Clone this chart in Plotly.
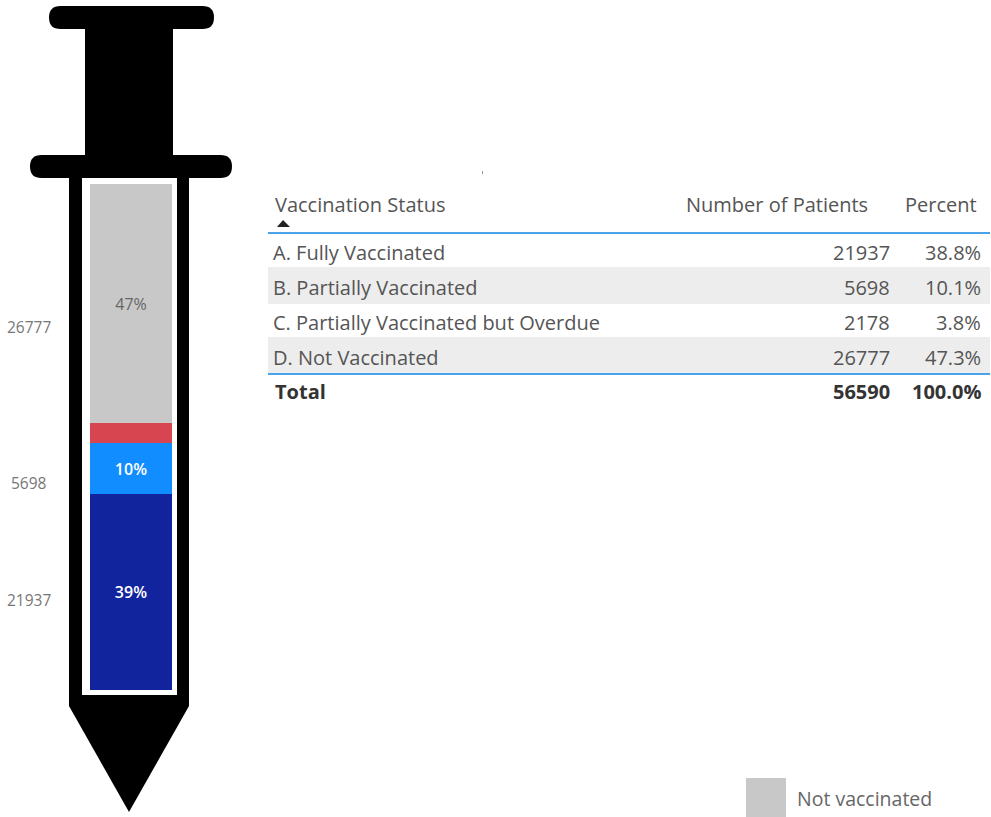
import plotly.graph_objects as go

# Data
statuses = ["A. Fully Vaccinated", "B. Partially Vaccinated",
            "C. Partially Vaccinated but Overdue", "D. Not Vaccinated"]
patients = [21937, 5698, 2178, 26777]
percents = ["38.8%", "10.1%", "3.8%", "47.3%"]
bar_labels = ["39%", "10%", "", "47%"]
side_labels = ["21937", "5698", "", "26777"]
headers = ["Vaccination Status", "Number of Patients", "Percent"]
total_row = ["Total", "56590", "100.0%"]
legend_label = "Not vaccinated"

bar_colors = ["#12239E", "#118DFF", "#D64550", "#C8C8C8"]
bar_text_colors = ["white", "white", "white", "#666666"]

W, H = 991, 817
FONT = "Open Sans"
TEXT = "#555555"

fig = go.Figure()

# Stacked bar inside the syringe barrel
for i in range(len(statuses)):
    fig.add_trace(go.Bar(
        x=[0], y=[patients[i]], name=statuses[i],
        marker=dict(color=bar_colors[i], line=dict(width=0)),
        text=[bar_labels[i]], textposition="inside", insidetextanchor="middle",
        textangle=0,
        textfont=dict(family=FONT, size=16, color=bar_text_colors[i],
                      weight=600 if bar_text_colors[i] == "white" else 400),
        xaxis="x2", yaxis="y2", showlegend=False,
    ))

shapes = []


def rect(x0, y0, x1, y1, color):
    shapes.append(dict(type="rect", xref="x", yref="y", x0=x0, y0=y0, x1=x1, y1=y1,
                       fillcolor=color, line=dict(width=0), layer="below"))


def path(d, color):
    shapes.append(dict(type="path", xref="x", yref="y", path=d,
                       fillcolor=color, line=dict(width=0), layer="below"))


def flange(x0, y0, x1, y1):
    r = (y1 - y0) / 2
    path(f"M {x0 + r} {y0} L {x1 - r} {y0} Q {x1} {y0} {x1} {y0 + r} Q {x1} {y1} {x1 - r} {y1} "
         f"L {x0 + r} {y1} Q {x0} {y1} {x0} {y0 + r} Q {x0} {y0} {x0 + r} {y0} Z", "black")


# Syringe outline
flange(49, 6, 214, 29)
rect(85, 25, 173, 160, "black")
flange(30, 155, 232, 178)
path("M 69 170 L 189 170 L 189 706 L 129 812 L 69 706 Z", "black")
rect(82, 178, 177, 695, "white")

# Table stripes and rules
rect(268, 267, 990, 304, "#EDEDED")
rect(268, 337, 990, 373, "#EDEDED")
rect(268, 232, 990, 234, "#4AA3E8")
rect(268, 373, 990, 375, "#4AA3E8")

# Sort arrow and stray tick
path("M 277 227 L 283 220 L 290 227 Z", "#222222")
rect(482, 171, 483, 174, "#999999")

# Legend swatch
rect(746, 778, 786, 817, "#C8C8C8")

annotations = []


def label(x, y, text, anchor="left", size=20, color=TEXT, bold=False):
    annotations.append(dict(
        xref="x", yref="y", x=x, y=y, text=f"<b>{text}</b>" if bold else text,
        xanchor=anchor, yanchor="middle", showarrow=False,
        font=dict(family=FONT, size=size, color=color),
    ))


# Labels left of the syringe
side_y = [600, 483, None, 327]
for lab, y in zip(side_labels, side_y):
    if lab:
        label(29, y, lab, anchor="center", size=15.5, color="#777777")

# Table text
label(273, 204, headers[0])
label(870, 204, headers[1], anchor="right")
label(979, 204, headers[2], anchor="right")

row_y = [252, 287, 322, 357]
for status, count, pct, y in zip(statuses, patients, percents, row_y):
    label(271, y, status)
    label(892, y, str(count), anchor="right")
    label(983, y, pct, anchor="right")

label(273, 391, total_row[0], color="#333333", bold=True)
label(892, 391, total_row[1], anchor="right", color="#333333", bold=True)
label(983, 391, total_row[2], anchor="right", color="#333333", bold=True)

label(795, 798, legend_label, size=19.5, color="#666666")

bar_top = 184
bar_bottom = 690

fig.update_layout(
    width=W, height=H,
    margin=dict(l=0, r=0, t=0, b=0),
    paper_bgcolor="white", plot_bgcolor="rgba(0,0,0,0)",
    barmode="stack", bargap=0,
    shapes=shapes, annotations=annotations,
    xaxis=dict(range=[0, W], visible=False, domain=[0, 1], fixedrange=True),
    yaxis=dict(range=[H, 0], visible=False, domain=[0, 1], fixedrange=True),
    xaxis2=dict(range=[-0.5, 0.5], visible=False, domain=[90 / W, 172 / W],
                anchor="y2", fixedrange=True),
    yaxis2=dict(range=[0, sum(patients)], visible=False,
                domain=[(H - bar_bottom) / H, (H - bar_top) / H],
                anchor="x2", fixedrange=True),
)

# Empty trace so the pixel axes exist for the shapes and labels
fig.add_trace(go.Scatter(x=[], y=[], xaxis="x", yaxis="y", showlegend=False))

fig.write_html("out.html", config=dict(displayModeBar=False),
               post_script="document.body.style.margin='0';")
